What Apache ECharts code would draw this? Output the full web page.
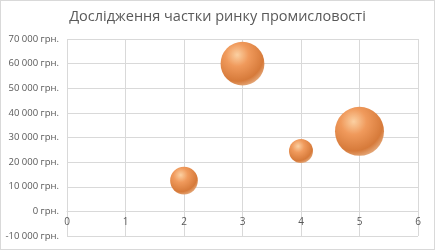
<!DOCTYPE html>
<html><head><meta charset="utf-8">
<script src="https://cdn.jsdelivr.net/npm/echarts@6/dist/echarts.min.js"></script>
<style>html,body{margin:0;padding:0;background:#fff}#c{width:435px;height:250px;box-sizing:border-box;border:1px solid #D9D9D9}</style>
</head><body><div id="c"></div>
<script>
const titleText = "Дослідження частки ринку промисловості";
const xValues = [2, 3, 4, 5];
const yValues = [12500, 60000, 24500, 32500];
const bubbleSizes = [8, 20, 6, 25];
const yTicks = {min: -10000, max: 70000, interval: 10000};
const xTicks = {min: 0, max: 6, interval: 1};

function fmt(v){
  const s = Math.abs(v).toString().replace(/\B(?=(\d{3})+(?!\d))/g, ' ');
  return (v < 0 ? '-' : '') + s + ' грн.';
}
const gridTop = 38, gridBottom = 13, H = 250;
const plotH = H - gridTop - gridBottom;
const zeroOffset = -plotH * (0 - yTicks.min) / (yTicks.max - yTicks.min);
const chart = echarts.init(document.getElementById('c'), null, {renderer:'canvas'});
const fill = new echarts.graphic.RadialGradient(0.38, 0.3, 0.75, [
  {offset:0, color:'#FBD0A2'},
  {offset:0.35, color:'#F09A5C'},
  {offset:0.8, color:'#D67A3A'},
  {offset:1, color:'#E6AE82'}
]);
chart.setOption({
  animation:false,
  title:{text:titleText, left:'center', top:3, textStyle:{fontFamily:'Open Sans', fontSize:14.5, fontWeight:'normal', color:'#595959'}},
  grid:{left:66, right:16, top:gridTop, bottom:gridBottom},
  xAxis:{type:'value', min:xTicks.min, max:xTicks.max, interval:xTicks.interval, offset: zeroOffset,
    axisLine:{show:true, onZero:false, lineStyle:{color:'#D9D9D9'}},
    axisTick:{show:false},
    axisLabel:{color:'#595959', fontSize:10, fontFamily:'Open Sans', margin:6},
    splitLine:{show:true, lineStyle:{color:'#D9D9D9'}}},
  yAxis:{type:'value', min:yTicks.min, max:yTicks.max, interval:yTicks.interval,
    axisLine:{show:false}, axisTick:{show:false},
    axisLabel:{color:'#595959', fontSize:9.5, fontFamily:'Open Sans', formatter:fmt, margin:8},
    splitLine:{show:true, lineStyle:{color:'#D9D9D9'}}},
  series:[{type:'scatter',
    data: xValues.map((x,i)=>[x, yValues[i], bubbleSizes[i]]),
    symbolSize: d => Math.sqrt(d[2]) * 9.8,
    itemStyle:{color:fill, opacity:1}
  }]
});
</script></body></html>
